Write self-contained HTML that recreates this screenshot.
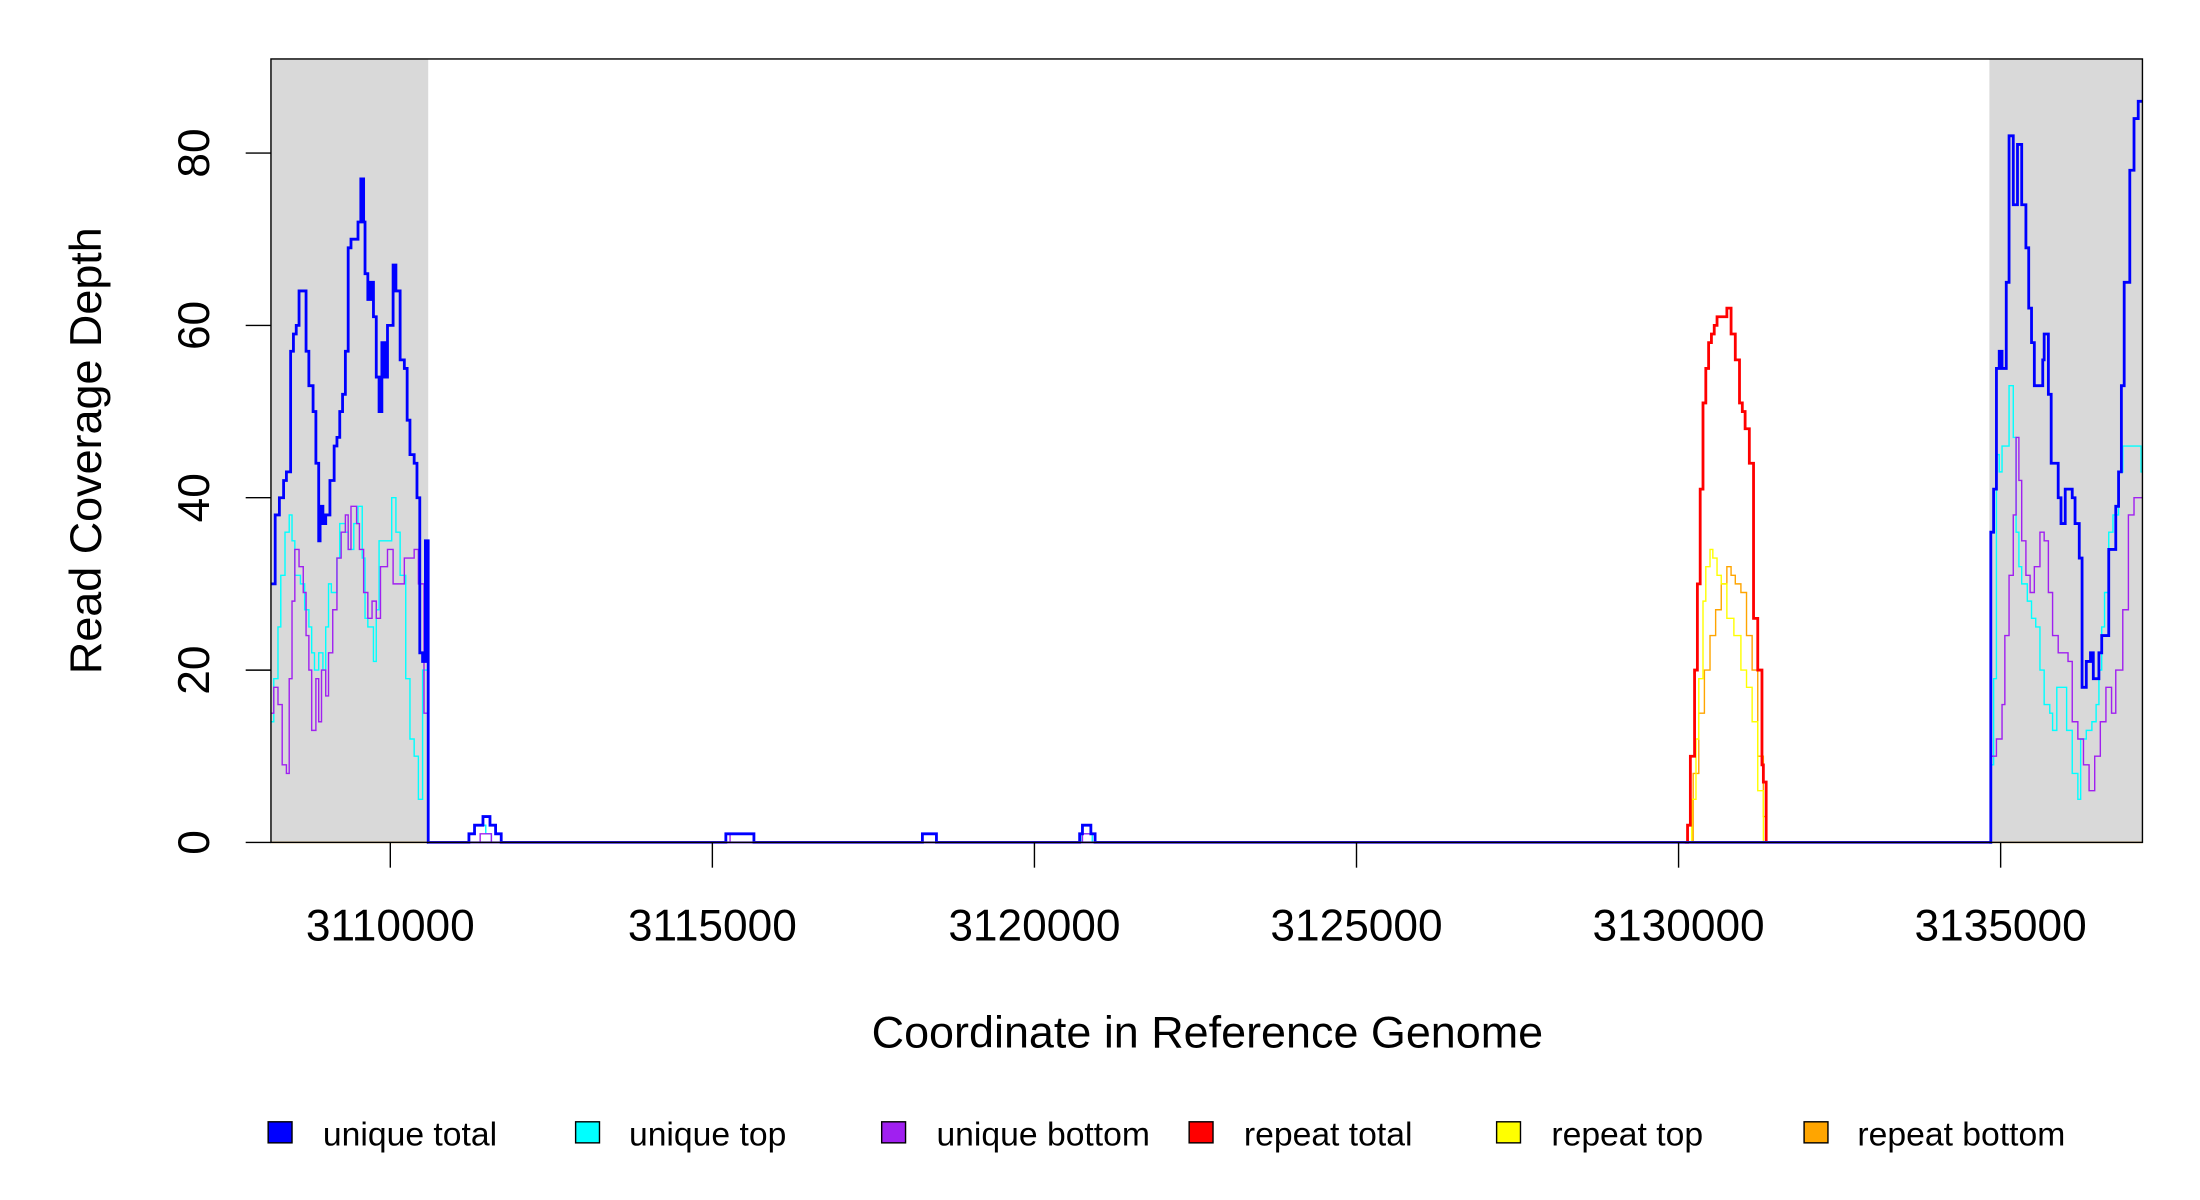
<!DOCTYPE html>
<html><head><meta charset="utf-8"><style>
html,body{margin:0;padding:0;background:#fff;}
svg{display:block;font-family:"Liberation Sans",Arial,sans-serif;}
</style></head><body>
<svg id="s" width="2200" height="1200" viewBox="0 0 1567 854.7" preserveAspectRatio="none" xmlns="http://www.w3.org/2000/svg">
<rect x="0" y="0" width="1567" height="855" fill="#fff"/>
<rect x="193" y="42" width="112" height="558" fill="#d9d9d9"/>
<rect x="1417" y="42" width="109" height="558" fill="#d9d9d9"/>
<g id="series"></g>
<rect x="193" y="42" width="1333" height="558" fill="none" stroke="#000" stroke-width="1"/>
<g stroke="#000" stroke-width="1">
<line x1="175" y1="600" x2="193" y2="600"/><line x1="175" y1="477.3" x2="193" y2="477.3"/>
<line x1="175" y1="354.5" x2="193" y2="354.5"/><line x1="175" y1="231.8" x2="193" y2="231.8"/>
<line x1="175" y1="109" x2="193" y2="109"/>
<line x1="278" y1="600" x2="278" y2="618"/><line x1="507.4" y1="600" x2="507.4" y2="618"/>
<line x1="736.8" y1="600" x2="736.8" y2="618"/><line x1="966.2" y1="600" x2="966.2" y2="618"/>
<line x1="1195.6" y1="600" x2="1195.6" y2="618"/><line x1="1425" y1="600" x2="1425" y2="618"/>
</g>
<g font-size="31.5" text-anchor="middle" fill="#000">
<text transform="translate(149,600) rotate(-90)">0</text>
<text transform="translate(149,477.3) rotate(-90)">20</text>
<text transform="translate(149,354.5) rotate(-90)">40</text>
<text transform="translate(149,231.8) rotate(-90)">60</text>
<text transform="translate(149,109) rotate(-90)">80</text>
<text x="278" y="670">3110000</text><text x="507.4" y="670">3115000</text>
<text x="736.8" y="670">3120000</text><text x="966.2" y="670">3125000</text>
<text x="1195.6" y="670">3130000</text><text x="1425" y="670">3135000</text>
<text x="860" y="746" font-size="32">Coordinate in Reference Genome</text>
<text transform="translate(72,321) rotate(-90)" font-size="32">Read Coverage Depth</text>
</g>
<g font-size="24" fill="#000" stroke-width="1">
<rect x="191" y="799" width="17" height="15" fill="#0000ff" stroke="#000"/><text x="230" y="816">unique total</text>
<rect x="410" y="799" width="17" height="15" fill="#00ffff" stroke="#000"/><text x="448" y="816">unique top</text>
<rect x="628" y="799" width="17" height="15" fill="#a020f0" stroke="#000"/><text x="667" y="816">unique bottom</text>
<rect x="847" y="799" width="17" height="15" fill="#ff0000" stroke="#000"/><text x="886" y="816">repeat total</text>
<rect x="1066" y="799" width="17" height="15" fill="#ffff00" stroke="#000"/><text x="1105" y="816">repeat top</text>
<rect x="1285" y="799" width="17" height="15" fill="#ffa500" stroke="#000"/><text x="1323" y="816">repeat bottom</text>
</g>
</svg>
<script>
function Y(v){return 600-v*6.1375;}
function step(pts){var d="M"+pts[0][0]+","+Y(pts[0][1]);
for(var i=1;i<pts.length;i++){d+=" H"+pts[i][0]+" V"+Y(pts[i][1]);}return d;}
function arr(s){return s.trim().split(/\s+/).map(function(p){var a=p.split("@");return [+a[1],+a[0]];});}
var S={
cyan:"14@193 19@195 25@198 31@200 36@203 38@206 35@208 31@210 30@214 27@217 25@220 22@222 20@224 22@227 20@230 25@232 30@234 29@236 33@240 37@242 36@246 34@248 37@252 39@255 33@258 26@260 25@262 21@266 27@268 35@270 40@279 36@282 31@285 19@289 12@292 10@295 5@298 20@301 0@305 0@332 1@334 2@338 1@346 0@350 0@515 1@517 0@537 0@767 1@770 0@778 0@1417 9@1418 19@1420 45@1422 43@1424 46@1426 53@1431 47@1434 36@1436 32@1438 30@1440 28@1444 26@1447 25@1450 20@1453 16@1456 15@1460 13@1462 18@1465 18@1470 13@1472 8@1476 5@1480 12@1482 13@1486 14@1490 16@1493 20@1495 25@1497 29@1499 36@1502 38@1505 43@1509 46@1512 43@1525 43@1526",
purple:"15@193 18@195 16@198 9@201 8@204 19@206 28@208 34@210 32@213 29@216 24@218 20@220 13@222 19@225 14@227 20@229 17@232 22@234 27@237 33@240 36@243 38@246 34@248 39@250 37@254 34@256 29@259 26@262 28@265 26@268 32@271 34@276 30@280 33@288 34@295 30@298 15@302 0@305 0@340 1@342 0@350 0@517 1@520 0@537 0@656 1@657 0@667 0@769 1@771 0@780 0@1417 10@1418 12@1422 16@1426 24@1428 31@1431 38@1434 47@1436 42@1438 35@1440 31@1443 29@1446 32@1449 36@1453 35@1456 29@1459 24@1462 22@1466 22@1470 21@1473 14@1476 12@1480 9@1484 6@1488 10@1492 14@1496 18@1500 15@1504 20@1507 27@1512 38@1516 40@1520 40@1526",
orange:"0@193 0@1201 8@1206 15@1210 20@1214 24@1218 27@1222 30@1226 32@1230 31@1233 30@1236 29@1240 24@1244 20@1248 10@1252 3@1256 0@1258 0@1526",
yellow:"0@1200 5@1205 12@1208 19@1210 28@1213 32@1215 34@1218 33@1220 31@1223 30@1226 26@1230 24@1235 20@1240 18@1244 14@1248 6@1252 0@1256",
red:"0@1200 2@1202 10@1204 20@1207 30@1209 41@1211 51@1213 55@1215 58@1217 59@1219 60@1221 61@1223 61@1226 62@1230 59@1233 56@1236 51@1239 50@1241 48@1243 44@1246 26@1249 20@1252 9@1255 7@1256 0@1258",
blue:"30@193 38@196 40@199 42@202 43@204 57@207 59@209 60@211 64@213 57@218 53@220 50@223 44@225 35@227 39@228 37@230 38@232 42@235 46@238 47@240 50@242 52@244 57@246 69@248 70@250 72@255 77@257 72@259 66@260 63@262 65@264 61@266 54@268 50@270 58@272 54@274 60@276 67@280 64@282 56@285 55@288 49@290 45@292 44@295 40@297 22@299 21@301 35@303 0@305 0@332 1@334 2@338 3@344 2@349 1@353 0@357 0@515 1@517 0@537 0@656 1@657 0@667 0@767 1@769 2@771 1@777 0@780 0@1417 36@1418 41@1420 55@1422 57@1424 55@1426 65@1429 82@1431 74@1434 81@1437 74@1440 69@1443 62@1445 58@1447 53@1449 53@1452 56@1455 59@1456 52@1459 44@1461 40@1466 37@1468 41@1471 40@1476 37@1478 33@1481 18@1483 21@1486 22@1489 19@1491 22@1495 24@1497 34@1502 39@1507 43@1509 53@1511 65@1513 78@1517 84@1520 86@1523 86@1526"
};
var g=document.getElementById("series");
var cfg=[["orange","#ffa500",1],["yellow","#ffff00",1],["red","#ff0000",2],["cyan","#00ffff",1],["purple","#a020f0",1],["blue","#0000ff",2]];
cfg.forEach(function(c){var p=document.createElementNS("http://www.w3.org/2000/svg","path");
p.setAttribute("d",step(arr(S[c[0]])));p.setAttribute("fill","none");p.setAttribute("stroke",c[1]);p.setAttribute("stroke-width",c[2]);g.appendChild(p);});
var l=document.createElementNS("http://www.w3.org/2000/svg","line");
l.setAttribute("x1",305);l.setAttribute("x2",1417);l.setAttribute("y1",600);l.setAttribute("y2",600);l.setAttribute("stroke","#6a3df0");l.setAttribute("stroke-width",1.5);g.appendChild(l);
</script>
</body></html>
